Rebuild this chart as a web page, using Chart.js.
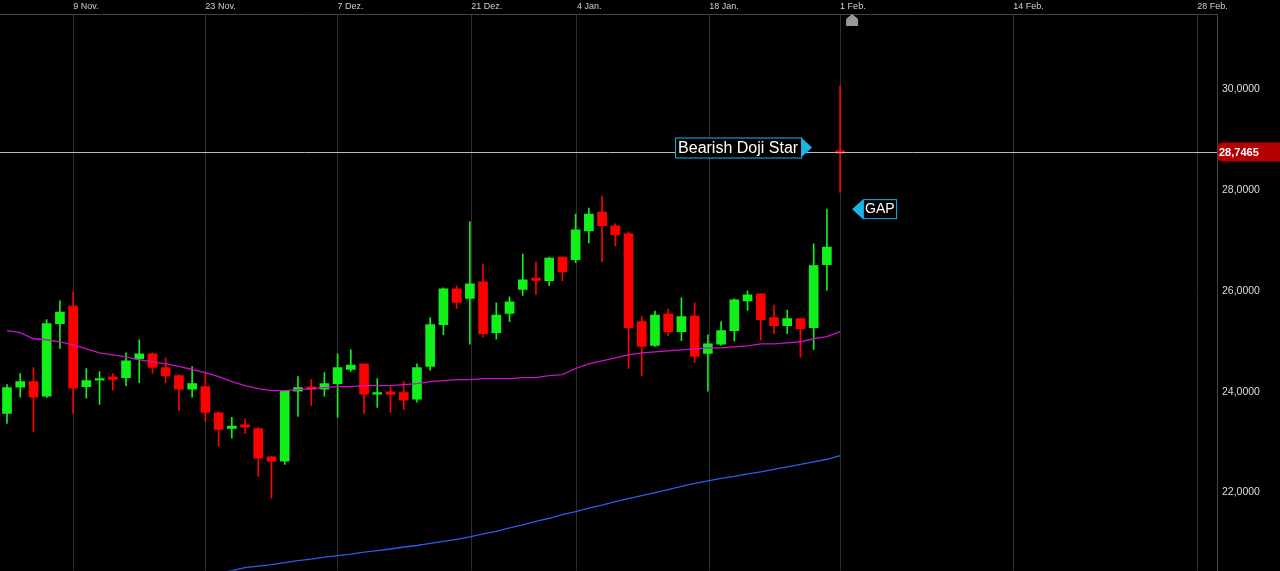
<!DOCTYPE html>
<html>
<head>
<meta charset="utf-8">
<script src="https://cdn.jsdelivr.net/npm/chart.js@4/dist/chart.umd.min.js"></script>
<style>
  html, body { margin: 0; padding: 0; background: #000; overflow: hidden; }
  #wrap { width: 1280px; height: 582px; position: relative; }
</style>
</head>
<body>
<div id="wrap"><canvas id="chart"></canvas></div>
<script>
// Kursdaten (OHLC), ein Wert pro Handelstag
const opens  = [23.57,24.09,24.20,23.91,25.35,25.70,24.10,24.23,24.28,24.28,24.65,24.75,24.48,24.32,24.05,24.10,23.58,23.27,23.33,23.27,22.71,22.62,24.01,24.08,24.05,24.16,24.44,24.55,23.95,23.98,23.98,23.85,24.50,25.33,26.04,25.85,26.18,25.17,25.55,26.03,26.24,26.20,26.67,26.62,27.19,27.56,27.29,27.13,25.39,24.92,25.54,25.19,25.50,24.76,24.94,25.21,25.80,25.94,25.47,25.31,25.45,25.27,26.52,28.76];
const closes = [24.08,24.20,23.89,25.35,25.58,24.07,24.22,24.26,24.26,24.61,24.75,24.48,24.32,24.05,24.16,23.59,23.25,23.32,23.31,22.68,22.62,24.01,24.08,24.06,24.16,24.48,24.53,23.95,23.98,23.96,23.83,24.48,25.33,26.04,25.77,26.14,25.15,25.52,25.78,26.22,26.22,26.65,26.38,27.21,27.52,27.29,27.11,25.27,24.90,25.52,25.19,25.49,24.70,24.95,25.21,25.82,25.92,25.43,25.31,25.45,25.25,26.50,26.87,28.7465];
const highs  = [24.14,24.36,24.48,25.43,25.80,25.98,24.46,24.40,24.36,24.77,25.03,24.77,24.67,24.34,24.50,24.36,23.60,23.49,23.45,23.29,22.72,24.01,24.30,24.24,24.38,24.75,24.83,24.55,24.26,24.09,24.20,24.55,25.47,26.06,26.10,27.37,26.53,25.76,25.88,26.73,26.57,26.67,26.67,27.52,27.64,27.88,27.33,27.17,25.49,25.60,25.64,25.86,25.76,25.13,25.39,25.84,26.00,25.94,25.72,25.62,25.45,26.93,27.62,30.06];
const lows   = [23.37,23.89,23.21,23.88,24.86,23.57,23.87,23.75,24.03,24.12,24.18,24.36,24.18,23.63,23.89,23.41,22.92,23.08,23.17,22.32,21.89,22.56,23.51,23.73,23.91,23.49,24.40,23.57,23.69,23.59,23.65,23.79,24.42,25.13,25.65,24.94,25.08,25.04,25.39,25.91,25.93,26.10,26.20,26.56,26.95,26.58,26.89,24.46,24.32,24.90,25.11,25.01,24.58,24.01,24.92,25.00,25.61,25.02,25.15,25.15,24.68,24.84,26.01,27.95];

// gleitende Durchschnitte
const maShort = [25.21,25.17,25.05,25.03,24.99,24.93,24.85,24.77,24.73,24.69,24.63,24.59,24.55,24.50,24.44,24.38,24.30,24.20,24.12,24.06,24.02,24.02,24.04,24.06,24.08,24.10,24.10,24.12,24.12,24.12,24.14,24.16,24.20,24.22,24.24,24.24,24.26,24.26,24.26,24.28,24.28,24.32,24.34,24.46,24.55,24.61,24.67,24.73,24.77,24.79,24.81,24.83,24.85,24.87,24.87,24.89,24.91,24.95,24.95,24.97,24.99,25.05,25.09,25.19];
const maLong = [null,null,null,null,null,null,null,null,null,null,null,null,null,null,null,null,20.40,20.45,20.51,20.54,20.57,20.61,20.65,20.68,20.72,20.75,20.78,20.82,20.85,20.88,20.92,20.95,20.99,21.03,21.07,21.12,21.18,21.23,21.30,21.36,21.43,21.49,21.56,21.62,21.69,21.75,21.82,21.88,21.94,22.00,22.06,22.12,22.18,22.23,22.28,22.32,22.37,22.41,22.46,22.51,22.56,22.61,22.66,22.73];

// Datumsachse
const tickIdx    = [5, 15, 25, 35.1, 43.1, 53.1, 63, 76.1, 90];
const tickLabels = ['9 Nov.', '23 Nov.', '7 Dez.', '21 Dez.', '4 Jan.', '18 Jan.', '1 Feb.', '14 Feb.', '28 Feb.'];
const lastPrice = 28.7465;

const green = '#11f01a', red = '#ff0000';
const colors = opens.map((o, i) => closes[i] >= o ? green : red);
const wicks  = opens.map((o, i) => ({ x: i, y: [lows[i], highs[i]] }));
const bodies = opens.map((o, i) => {
  let lo = Math.min(o, closes[i]), hi = Math.max(o, closes[i]);
  if (hi - lo < 0.03) { lo -= 0.015; hi += 0.015; }
  return { x: i, y: [lo, hi] };
});

function fmt(v, d) { return v.toFixed(d).replace('.', ','); }

// Annotationen, Preislinie und Preisschild
const overlay = {
  id: 'overlay',
  afterDatasetsDraw(chart) {
    const ctx = chart.ctx, xs = chart.scales.x, ys = chart.scales.y, area = chart.chartArea;
    const py = Math.round(ys.getPixelForValue(lastPrice)) + 0.5;
    ctx.save();
    ctx.strokeStyle = '#bbbbbb';
    ctx.lineWidth = 1;
    ctx.beginPath(); ctx.moveTo(0, py); ctx.lineTo(area.right, py); ctx.stroke();

    // Preisschild rechts
    ctx.fillStyle = '#b30000';
    ctx.beginPath();
    ctx.roundRect(area.right + 1, py - 10, 70, 19, 4);
    ctx.fill();
    ctx.fillStyle = '#ffffff';
    ctx.font = 'bold 11px "Liberation Sans", Arial';
    ctx.textBaseline = 'middle';
    ctx.fillText(fmt(lastPrice, 4), area.right + 2, py);

    // Bearish Doji Star
    const dx = xs.getPixelForValue(63);
    ctx.font = '16px "Liberation Sans", Arial';
    const txt = 'Bearish Doji Star';
    const w = ctx.measureText(txt).width + 6;
    const bx = dx - 39 - w, by = py - 15;
    ctx.fillStyle = '#000';
    ctx.fillRect(bx, by, w, 20);
    ctx.strokeStyle = '#19b5ea';
    ctx.strokeRect(bx + 0.5, by + 0.5, w, 20);
    ctx.fillStyle = '#ffffff';
    ctx.fillText(txt, bx + 3, by + 11);
    ctx.fillStyle = '#19b5ea';
    ctx.beginPath();
    ctx.moveTo(bx + w, by); ctx.lineTo(bx + w + 11, by + 10); ctx.lineTo(bx + w, by + 20); ctx.closePath();
    ctx.fill();

    // GAP
    const gy = ys.getPixelForValue(27.62);
    const gx = dx + 23;
    ctx.font = '14px "Liberation Sans", Arial';
    ctx.fillStyle = '#000';
    ctx.fillRect(gx, gy - 10, 33, 19);
    ctx.strokeStyle = '#19b5ea';
    ctx.strokeRect(gx + 0.5, gy - 9.5, 33, 19);
    ctx.fillStyle = '#ffffff';
    ctx.fillText('GAP', gx + 2, gy);
    ctx.fillStyle = '#19b5ea';
    ctx.beginPath();
    ctx.moveTo(gx, gy - 10); ctx.lineTo(gx - 11, gy); ctx.lineTo(gx, gy + 10); ctx.closePath();
    ctx.fill();

    // Marker über der letzten Kerze
    ctx.fillStyle = '#999999';
    ctx.beginPath();
    ctx.moveTo(dx + 12, 14); ctx.lineTo(dx + 18, 19); ctx.lineTo(dx + 18, 26);
    ctx.lineTo(dx + 6, 26); ctx.lineTo(dx + 6, 19); ctx.closePath();
    ctx.fill();
    ctx.restore();
  }
};

Chart.defaults.font.family = '"Liberation Sans", Arial, sans-serif';

new Chart(document.getElementById('chart'), {
  data: {
    datasets: [
      { type: 'line', data: maShort.map((v, i) => ({ x: i, y: v })), borderColor: '#cc11cc', borderWidth: 1.3, pointRadius: 0, order: 0 },
      { type: 'line', data: maLong.map((v, i) => ({ x: i, y: v })), borderColor: '#2a5cf0', borderWidth: 1.3, pointRadius: 0, order: 0 },
      { type: 'bar', data: wicks, backgroundColor: colors, barThickness: 1, grouped: false, order: 2 },
      { type: 'bar', data: bodies, backgroundColor: colors, barThickness: 9, grouped: false, order: 1 }
    ]
  },
  options: {
    responsive: true,
    maintainAspectRatio: false,
    animation: false,
    layout: { padding: 0 },
    plugins: { legend: { display: false }, tooltip: { enabled: false } },
    scales: {
      x: {
        type: 'linear',
        position: 'top',
        min: -0.53,
        max: 91.5,
        offset: false,
        afterBuildTicks: axis => { axis.ticks = tickIdx.map(v => ({ value: v })); },
        afterFit: axis => { axis.height = 14; },
        grid: { color: '#2e2e2e', drawTicks: false, offset: false },
        border: { color: '#444' },
        ticks: {
          color: '#d0d0d0',
          font: { size: 9 },
          align: 'start',
          padding: 2,
          maxRotation: 0,
          autoSkip: false,
          callback: v => { const k = tickIdx.indexOf(v); return k >= 0 ? tickLabels[k] : ''; }
        }
      },
      y: {
        position: 'right',
        min: 20.45,
        max: 31.49,
        afterBuildTicks: axis => { axis.ticks = [22, 24, 26, 28, 30].map(v => ({ value: v })); },
        afterFit: axis => { axis.width = 63; },
        grid: { display: false, drawTicks: false },
        border: { color: '#444' },
        ticks: { color: '#dddddd', font: { size: 10.5 }, padding: 5, callback: v => fmt(v, 4) }
      }
    }
  },
  plugins: [overlay]
});
</script>
</body>
</html>
